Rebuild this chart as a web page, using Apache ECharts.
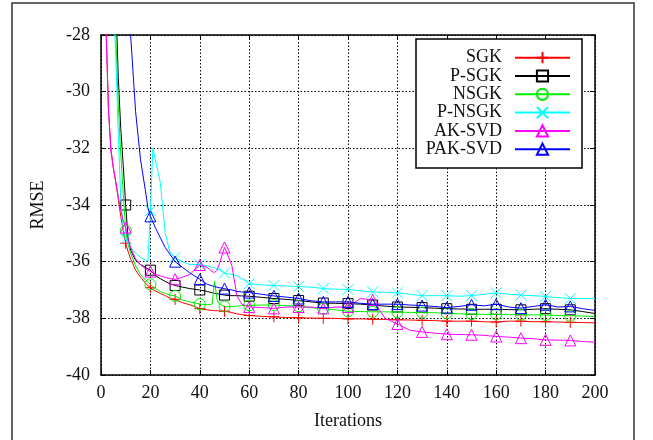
<!DOCTYPE html>
<html>
<head>
<meta charset="utf-8">
<script src="https://cdn.jsdelivr.net/npm/echarts@6/dist/echarts.min.js"></script>
<style>html,body{margin:0;padding:0;background:#fff;}#c{width:653px;height:440px;}</style>
</head>
<body>
<div id="c"></div>
<script>
var iterations = [1,2,3,4,5,6,7,8,9,10,11,12,14,16,18,19,20,21,22,24,26,28,30,33,36,40,43,45,46,47,48,50,51,53,55,57,60,65,70,75,80,85,90,95,100,105,110,115,120,125,130,135,140,145,150,155,160,165,170,175,180,185,190,195,200];
var markerIterations = [10,20,30,40,50,60,70,80,90,100,110,120,130,140,150,160,170,180,190];
var seriesNames = ['SGK','P-SGK','NSGK','P-NSGK','AK-SVD','PAK-SVD'];
var xTicks = [0,20,40,60,80,100,120,140,160,180,200];
var yTicks = [-40,-38,-36,-34,-32,-30,-28];

var sgk = [-22,-27.5,-30.6,-32.0,-32.7,-33.2,-33.8,-34.4,-34.9,-35.35,-35.65,-35.9,-36.3,-36.55,-36.75,-36.85,-36.92,-36.98,-37.03,-37.12,-37.2,-37.3,-37.33,-37.45,-37.52,-37.66,-37.7,-37.72,-37.73,-37.73,-37.74,-37.75,-37.76,-37.8,-37.84,-37.87,-37.9,-37.93,-37.95,-37.97,-37.98,-37.99,-38.0,-38.0,-38.02,-38.02,-38.03,-38.04,-38.05,-38.06,-38.07,-38.08,-38.1,-38.1,-38.1,-38.12,-38.13,-38.1,-38.1,-38.12,-38.12,-38.13,-38.14,-38.15,-38.16];
var psgk = [-14,-16,-18.5,-21,-24,-26.8,-29.5,-31.3,-32.6,-34.0,-35.2,-35.6,-35.95,-36.1,-36.2,-36.25,-36.3,-36.4,-36.48,-36.6,-36.7,-36.78,-36.84,-36.9,-36.95,-37.0,-37.05,-37.1,-37.12,-37.13,-37.15,-37.18,-37.19,-37.2,-37.2,-37.21,-37.22,-37.26,-37.3,-37.33,-37.37,-37.42,-37.46,-37.47,-37.48,-37.5,-37.53,-37.57,-37.6,-37.61,-37.62,-37.64,-37.66,-37.67,-37.68,-37.68,-37.68,-37.69,-37.7,-37.68,-37.66,-37.68,-37.7,-37.76,-37.83];
var nsgk = [-15,-18,-21,-23.5,-26,-28.0,-30.5,-32.2,-33.6,-34.9,-35.4,-35.7,-36.15,-36.45,-36.65,-36.72,-36.8,-36.88,-36.95,-37.05,-37.12,-37.18,-37.21,-37.35,-37.42,-37.5,-37.52,-37.5,-36.7,-37.35,-37.5,-37.58,-37.6,-37.58,-37.57,-37.55,-37.54,-37.53,-37.53,-37.55,-37.57,-37.62,-37.66,-37.7,-37.75,-37.76,-37.77,-37.77,-37.78,-37.79,-37.8,-37.8,-37.82,-37.84,-37.85,-37.86,-37.86,-37.87,-37.87,-37.88,-37.88,-37.9,-37.91,-37.92,-37.94];
var pnsgk = [-15,-17,-20,-24.5,-26.7,-28.8,-31.5,-33.8,-34.8,-35.2,-35.35,-35.5,-35.7,-35.85,-35.95,-35.98,-34.2,-32.0,-32.4,-33.2,-35.0,-35.7,-35.85,-36.0,-36.1,-36.1,-36.15,-36.2,-36.22,-36.25,-36.3,-36.4,-36.42,-36.45,-36.5,-36.6,-36.78,-36.82,-36.84,-36.86,-36.88,-36.9,-36.95,-36.97,-36.98,-37.03,-37.07,-37.08,-37.1,-37.15,-37.2,-37.2,-37.2,-37.22,-37.2,-37.15,-37.1,-37.15,-37.18,-37.2,-37.23,-37.27,-37.3,-37.3,-37.3];
var aksvd = [-22,-27.7,-30.6,-32.1,-32.7,-33.2,-33.7,-34.2,-34.55,-34.8,-35.2,-35.5,-35.9,-36.1,-36.25,-36.3,-36.35,-36.4,-36.45,-36.5,-36.55,-36.6,-36.62,-36.55,-36.45,-36.12,-36.2,-36.35,-36.38,-36.3,-36.05,-35.5,-35.7,-36.15,-37.2,-37.5,-37.6,-37.62,-37.65,-37.6,-37.6,-37.6,-37.65,-37.6,-37.6,-37.3,-37.35,-38.0,-38.2,-38.42,-38.48,-38.52,-38.56,-38.57,-38.58,-38.6,-38.64,-38.66,-38.7,-38.72,-38.76,-38.77,-38.78,-38.82,-38.84];
var paksvd = [-5,-8,-10,-12,-14,-16,-18,-20,-22,-24,-26,-28.0,-30.7,-32.4,-33.5,-34.1,-34.4,-34.6,-34.8,-35.15,-35.5,-35.75,-36.0,-36.2,-36.4,-36.62,-36.8,-36.85,-36.88,-36.9,-36.92,-36.95,-36.97,-37.0,-37.05,-37.07,-37.09,-37.15,-37.21,-37.25,-37.3,-37.38,-37.42,-37.42,-37.42,-37.47,-37.5,-37.5,-37.5,-37.53,-37.55,-37.58,-37.62,-37.58,-37.52,-37.56,-37.5,-37.6,-37.64,-37.58,-37.52,-37.6,-37.58,-37.66,-37.72];

var values = [sgk, psgk, nsgk, pnsgk, aksvd, paksvd];
var colors = ['#ff0000','#000000','#00ee00','#00ffff','#ff00ff','#0000ff'];
var symbols = ['path://M5,0L5,10M0,5L10,5','rect','circle','path://M0,0L10,10M10,0L0,10','triangle','triangle'];

var FONT = 'Liberation Serif';

var series = seriesNames.map(function(name, k){
  var data = iterations.map(function(it, i){
    var item = {value: [it, values[k][i]]};
    if (markerIterations.indexOf(it) < 0) item.symbol = 'none';
    return item;
  });
  return {
    name: name,
    type: 'line',
    data: data,
    xAxisIndex: 0, yAxisIndex: 0,
    symbol: symbols[k],
    symbolSize: k === 1 ? 10 : 11,
    showSymbol: true,
    clip: true,
    lineStyle: {color: colors[k], width: 1},
    itemStyle: {color: 'rgba(0,0,0,0)', borderColor: colors[k], borderWidth: 1},
    emphasis: {disabled: true},
    z: 2 + k * 0.01
  };
});

var legends = seriesNames.map(function(name, i){
  return {
    data: [name],
    orient: 'vertical',
    right: 82,
    top: 57.7 + i * 18.3 - 9,
    align: 'right',
    padding: 0,
    itemWidth: 55,
    itemHeight: 14,
    selectedMode: false,
    textStyle: {fontFamily: FONT, fontSize: 18, color: '#111', lineHeight: 18, padding: [0, 8, 0, 0]}
  };
});

var chart = echarts.init(document.getElementById('c'), null, {renderer: 'canvas'});
chart.setOption({
  animation: false,
  backgroundColor: '#fff',
  grid: {left: 101, right: 58, top: 35, bottom: 65},
  xAxis: [{
    type: 'value', min: xTicks[0], max: xTicks[xTicks.length - 1], interval: 20,
    name: 'Iterations', nameLocation: 'middle', nameGap: 37,
    nameTextStyle: {fontFamily: FONT, fontSize: 18, color: '#111'},
    axisLine: {show: true, lineStyle: {color: '#000', width: 1.5}},
    axisTick: {show: true, inside: true, length: 5, lineStyle: {color: '#000'}},
    axisLabel: {fontFamily: FONT, fontSize: 18, color: '#111', margin: 9},
    splitLine: {show: true, lineStyle: {color: '#000', width: 1, type: [1.5, 2]}}
  }, {
    type: 'value', position: 'top', min: xTicks[0], max: xTicks[xTicks.length - 1], interval: 20,
    axisLine: {show: true, onZero: false, lineStyle: {color: '#000', width: 1.5}},
    axisTick: {show: true, inside: true, length: 5, lineStyle: {color: '#000'}},
    axisLabel: {show: false},
    splitLine: {show: false}
  }],
  yAxis: [{
    type: 'value', min: yTicks[0], max: yTicks[yTicks.length - 1], interval: 2,
    name: 'RMSE', nameLocation: 'middle', nameGap: 54, nameRotate: 90,
    nameTextStyle: {fontFamily: FONT, fontSize: 18, color: '#111'},
    axisLine: {show: true, onZero: false, lineStyle: {color: '#000', width: 1.5}},
    axisTick: {show: true, inside: true, length: 5, lineStyle: {color: '#000'}},
    axisLabel: {fontFamily: FONT, fontSize: 18, color: '#111', margin: 11},
    splitLine: {show: true, lineStyle: {color: '#000', width: 1, type: [1.5, 2]}}
  }, {
    type: 'value', position: 'right', min: yTicks[0], max: yTicks[yTicks.length - 1], interval: 2,
    axisLine: {show: true, onZero: false, lineStyle: {color: '#000', width: 1.5}},
    axisTick: {show: true, inside: true, length: 5, lineStyle: {color: '#000'}},
    axisLabel: {show: false},
    splitLine: {show: false}
  }],
  legend: legends,
  graphic: [
    {type: 'rect', z: 1, shape: {x: 12, y: 3, width: 622, height: 460}, style: {fill: 'none', stroke: '#333', lineWidth: 1.5}},
    {type: 'rect', z: 1, shape: {x: 416, y: 39, width: 166, height: 129}, style: {fill: '#fff', stroke: '#000', lineWidth: 1.5}}
  ],
  series: series
});
</script>
</body>
</html>
